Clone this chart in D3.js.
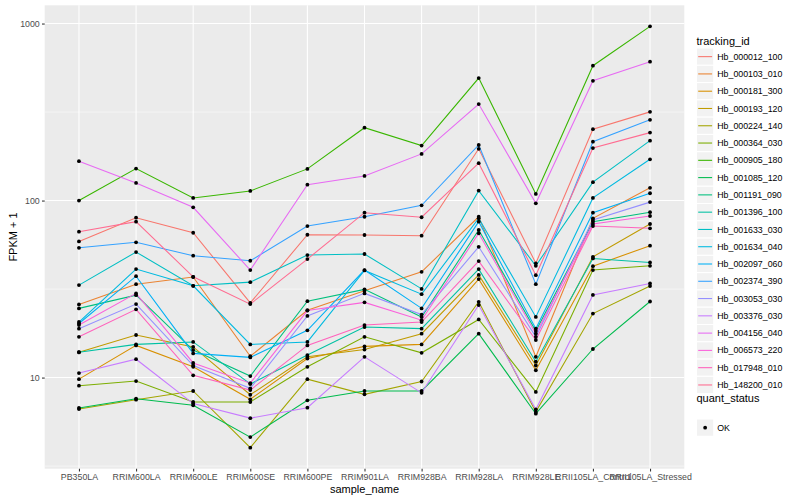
<!DOCTYPE html>
<html>
<head>
<meta charset="utf-8">
<script src="https://cdn.jsdelivr.net/npm/d3@7"></script>
<style>
  body { margin: 0; background: #fff; }
  text { font-family: "Liberation Sans", Arial, sans-serif; }
</style>
</head>
<body>
<div id="chart"></div>
<script>
// sample names along x
let samples = ["PB350LA", "RRIM600LA", "RRIM600LE", "RRIM600SE", "RRIM600PE", "RRIM901LA",
    "RRIM928BA", "RRIM928LA", "RRIM928LE", "RRII105LA_Control", "RRII105LA_Stressed"];

let trackingIds = ["Hb_000012_100", "Hb_000103_010", "Hb_000181_300", "Hb_000193_120", "Hb_000224_140",
    "Hb_000364_030", "Hb_000905_180", "Hb_001085_120", "Hb_001191_090", "Hb_001396_100",
    "Hb_001633_030", "Hb_001634_040", "Hb_002097_060", "Hb_002374_390", "Hb_003053_030",
    "Hb_003376_030", "Hb_004156_040", "Hb_006573_220", "Hb_017948_010", "Hb_148200_010"];

// FPKM + 1, one array per tracking id (same order as samples)
let hb000012 = [58.8, 80, 65.8, 26.4, 64.1, 63.9, 63.3, 196, 44.2, 253, 317];
let hb000103 = [25.9, 33.7, 37, 13.2, 24, 30.9, 39.6, 81, 13.1, 79.4, 118];
let hb000181 = [9.8, 15.2, 11.5, 7.54, 12.8, 15, 15.4, 36, 11, 42.6, 55.6];
let hb000193 = [13.9, 17.4, 14.9, 8.0, 13.1, 14.4, 17.7, 38, 11.7, 48.1, 73.7];
let hb000224 = [6.64, 7.5, 8.4, 4.02, 9.8, 8.04, 9.5, 26.8, 6.4, 23, 32.9];
let hb000364 = [9.0, 9.56, 7.28, 7.28, 11.5, 17, 13.8, 21.3, 8.3, 40.5, 42.8];
let hb000905 = [100, 151.6, 103.5, 113.3, 151, 258, 204.5, 492, 109, 578, 964];
let hb001085 = [6.73, 7.6, 6.97, 4.61, 7.44, 8.4, 8.4, 17.7, 6.25, 14.5, 26.9];
let hb001191 = [24.6, 29.2, 14.3, 10.2, 27, 31.5, 22, 68.2, 18.3, 76, 86];
let hb001396 = [13.9, 15.4, 15.9, 9.2, 13.4, 19.3, 18.9, 41, 12.3, 47.1, 44.7];
let hb001633 = [33.3, 51.2, 33, 34.6, 49.2, 49.9, 31.7, 113.8, 42.8, 127, 218];
let hb001634 = [20.6, 41, 33, 15.4, 15.9, 40.3, 29.6, 79.4, 22, 103.5, 171];
let hb002097 = [20.2, 37.4, 13.7, 13, 18.5, 40.5, 24.6, 76, 18.9, 85.4, 110];
let hb002374 = [54.1, 58.1, 48.8, 45.7, 71.8, 81, 94, 206, 33.7, 215, 286];
let hb003053 = [18.9, 26, 11.7, 8.7, 22.3, 29.9, 22.7, 54.8, 17, 77.6, 98];
let hb003376 = [10.6, 12.7, 7.13, 5.9, 6.76, 13.1, 8.2, 25.7, 6.6, 29.3, 34];
let hb004156 = [167, 125.8, 91.6, 40.5, 123, 137.8, 183.5, 351, 96.5, 475, 609];
let hb006573 = [19.8, 29.9, 12.1, 9.3, 23.9, 26.6, 21.1, 65.3, 17.7, 73.7, 81.8];
let hb017948 = [17.0, 24.3, 10.3, 8.5, 15.2, 19.8, 20.6, 45.5, 16.3, 71.8, 69.7];
let hb148200 = [66.7, 76, 37.1, 26, 46.7, 85.4, 80.5, 162.6, 37.9, 198, 242];

let yTicks = [10, 100, 1000];
let yMinor = [3.1623, 31.623, 316.23];
let quantStatus = ["OK"];

// ggplot default hue palette for 20 groups
let colors = ["#F8766D", "#EA8331", "#D89000", "#C09B00", "#A3A500", "#7CAE00", "#39B600", "#00BB4E",
    "#00BF7D", "#00C1A3", "#00BFC4", "#00BAE0", "#00B0F6", "#35A2FF", "#9590FF", "#C77CFF",
    "#E76BF3", "#FA62DB", "#FF62BC", "#FF6C91"];

let values = [hb000012, hb000103, hb000181, hb000193, hb000224, hb000364, hb000905, hb001085,
    hb001191, hb001396, hb001633, hb001634, hb002097, hb002374, hb003053, hb003376,
    hb004156, hb006573, hb017948, hb148200];

let series = trackingIds.map((id, i) => ({
    id: id,
    color: colors[i],
    points: samples.map((s, j) => ({ sample: s, value: values[i][j] }))
}));

let width = 800, height = 500;
let panel = { left: 44.7, right: 684.3, top: 5.3, bottom: 468.7 };

let svg = d3.select("#chart").append("svg")
    .attr("width", width)
    .attr("height", height);

svg.append("rect").attr("width", width).attr("height", height).attr("fill", "#fff");

let x = d3.scalePoint()
    .domain(samples)
    .range([panel.left, panel.right])
    .padding(0.6);

// log scale, expanded 5% like ggplot
let all = values.flat();
let lo = Math.log10(d3.min(all)), hi = Math.log10(d3.max(all));
let pad = (hi - lo) * 0.05;
let y = d3.scaleLog()
    .domain([Math.pow(10, lo - pad), Math.pow(10, hi + pad)])
    .range([panel.bottom, panel.top]);

// panel background + grid
svg.append("rect")
    .attr("x", panel.left).attr("y", panel.top)
    .attr("width", panel.right - panel.left)
    .attr("height", panel.bottom - panel.top)
    .attr("fill", "#EBEBEB");

svg.selectAll(".minor")
    .data(yMinor)
    .enter()
    .append("line")
    .attr("x1", panel.left).attr("x2", panel.right)
    .attr("y1", d => y(d)).attr("y2", d => y(d))
    .attr("stroke", "#fff").attr("stroke-width", 0.53);

svg.selectAll(".hgrid")
    .data(yTicks)
    .enter()
    .append("line")
    .attr("x1", panel.left).attr("x2", panel.right)
    .attr("y1", d => y(d)).attr("y2", d => y(d))
    .attr("stroke", "#fff").attr("stroke-width", 1.07);

svg.selectAll(".vgrid")
    .data(samples)
    .enter()
    .append("line")
    .attr("x1", d => x(d)).attr("x2", d => x(d))
    .attr("y1", panel.top).attr("y2", panel.bottom)
    .attr("stroke", "#fff").attr("stroke-width", 1.07);

// lines
let line = d3.line()
    .x(d => x(d.sample))
    .y(d => y(d.value));

svg.selectAll(".series")
    .data(series)
    .enter()
    .append("path")
    .attr("d", d => line(d.points))
    .attr("fill", "none")
    .attr("stroke", d => d.color)
    .attr("stroke-width", 1.07);

// points on top
series.forEach(s => {
    svg.append("g").selectAll("circle")
        .data(s.points)
        .enter()
        .append("circle")
        .attr("cx", d => x(d.sample))
        .attr("cy", d => y(d.value))
        .attr("r", 1.9)
        .attr("fill", "#000");
});

// axes
let yAxis = svg.append("g")
    .attr("transform", `translate(${panel.left},0)`)
    .call(d3.axisLeft(y).tickValues(yTicks).tickFormat(d3.format("d")).tickSize(2.74).tickPadding(2.2));
let xAxis = svg.append("g")
    .attr("transform", `translate(0,${panel.bottom})`)
    .call(d3.axisBottom(x).tickSize(2.74).tickPadding(2.2));

[yAxis, xAxis].forEach(a => {
    a.select(".domain").remove();
    a.selectAll(".tick line").attr("stroke", "#333").attr("stroke-width", 1.07);
    a.selectAll(".tick text")
        .attr("fill", "#4D4D4D")
        .style("font-size", "8.8px")
        .style("font-family", "'Liberation Sans', Arial, sans-serif");
});

svg.append("text")
    .attr("x", (panel.left + panel.right) / 2)
    .attr("y", 493)
    .attr("text-anchor", "middle")
    .style("font-size", "11px")
    .text("sample_name");

svg.append("text")
    .attr("transform", `translate(17,${(panel.top + panel.bottom) / 2}) rotate(-90)`)
    .attr("text-anchor", "middle")
    .style("font-size", "11px")
    .text("FPKM + 1");

// legend: tracking_id
let keySize = 17.28;
let legX = 696.5;
let legend = svg.append("g");
legend.append("text")
    .attr("x", legX).attr("y", 44.5)
    .style("font-size", "11px")
    .text("tracking_id");

let keys = legend.selectAll(".key")
    .data(series)
    .enter()
    .append("g")
    .attr("transform", (d, i) => `translate(${legX},${48 + i * keySize})`);

keys.append("rect")
    .attr("width", keySize).attr("height", keySize)
    .attr("fill", "#F2F2F2").attr("stroke", "#fff").attr("stroke-width", 1.07);
keys.append("line")
    .attr("x1", 1.7).attr("x2", keySize - 1.7)
    .attr("y1", keySize / 2).attr("y2", keySize / 2)
    .attr("stroke", d => d.color).attr("stroke-width", 1.07);
keys.append("text")
    .attr("x", keySize + 3.5).attr("y", keySize / 2 + 3.1)
    .style("font-size", "8.8px")
    .text(d => d.id);

// legend: quant_status
let legend2 = svg.append("g");
legend2.append("text")
    .attr("x", legX).attr("y", 402)
    .style("font-size", "11px")
    .text("quant_status");

let keys2 = legend2.selectAll(".key2")
    .data(quantStatus)
    .enter()
    .append("g")
    .attr("transform", (d, i) => `translate(${legX},${419 + i * keySize})`);
keys2.append("rect")
    .attr("width", keySize).attr("height", keySize)
    .attr("fill", "#F2F2F2").attr("stroke", "#fff").attr("stroke-width", 1.07);
keys2.append("circle")
    .attr("cx", keySize / 2).attr("cy", keySize / 2).attr("r", 1.9)
    .attr("fill", "#000");
keys2.append("text")
    .attr("x", keySize + 3.5).attr("y", keySize / 2 + 3.1)
    .style("font-size", "8.8px")
    .text(d => d);
</script>
</body>
</html>
